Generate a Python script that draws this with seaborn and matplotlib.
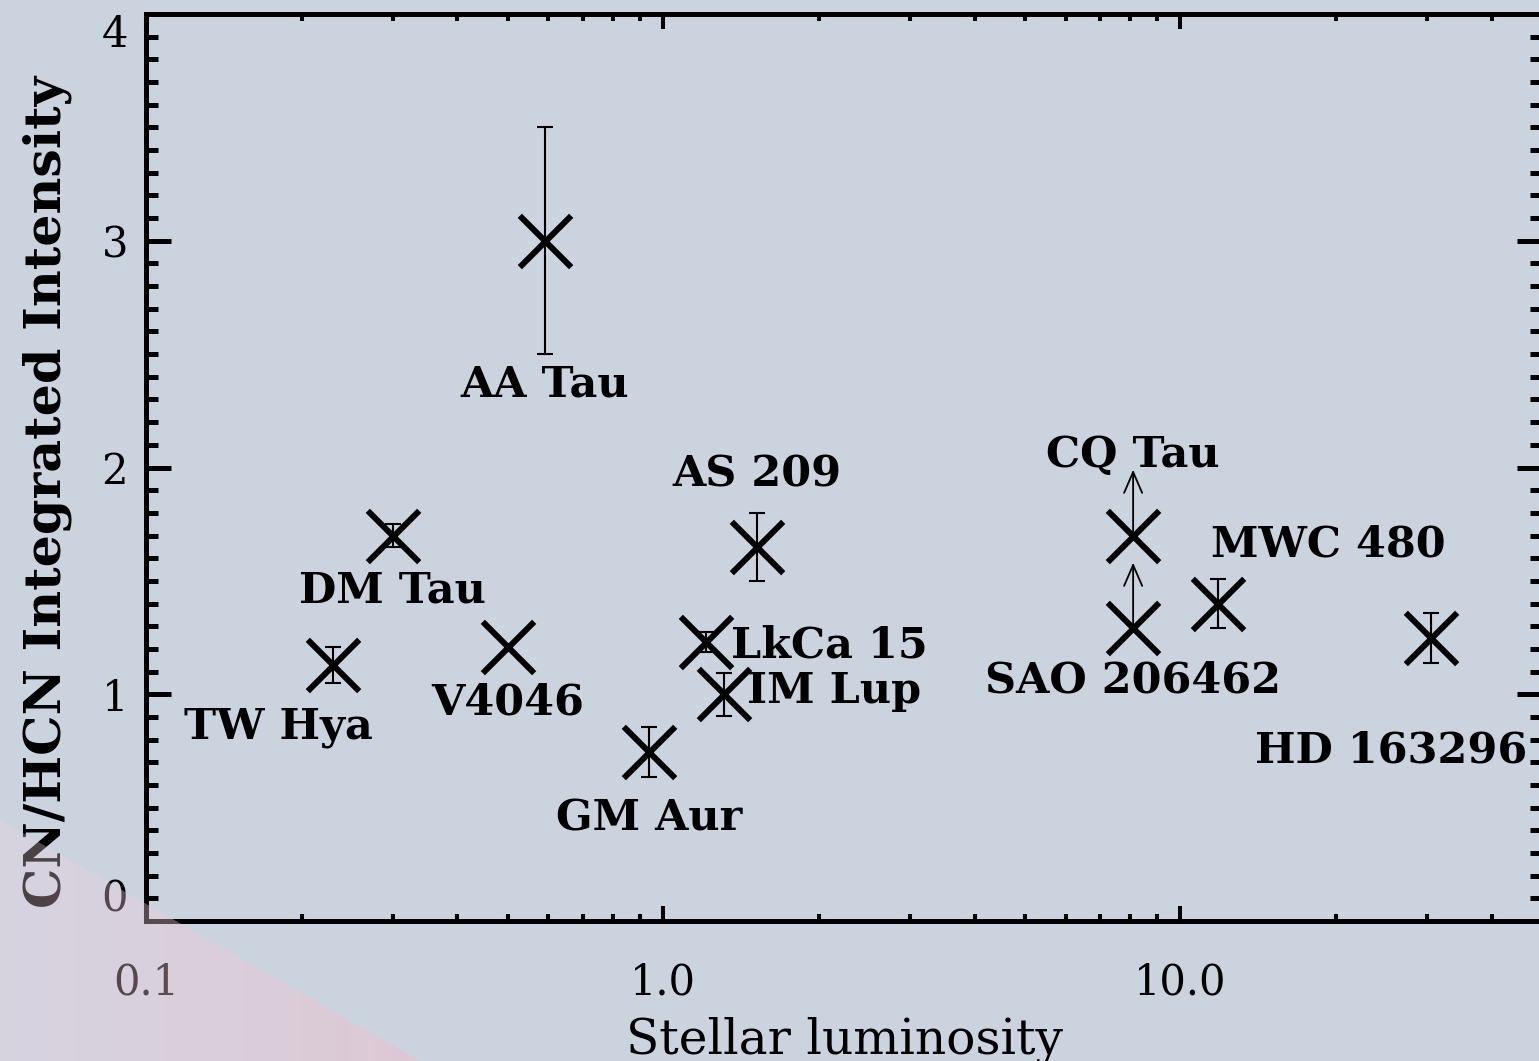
import numpy as np
import pandas as pd
import matplotlib
matplotlib.use("Agg")
import matplotlib.pyplot as plt
import seaborn as sns
from matplotlib.ticker import FixedLocator, NullFormatter
from matplotlib.patches import Polygon

# ---- data -------------------------------------------------------------
sources = ["TW Hya", "DM Tau", "V4046", "AA Tau", "GM Aur", "LkCa 15",
           "IM Lup", "AS 209", "SAO 206462", "CQ Tau", "MWC 480", "HD 163296"]
luminosity = [0.23, 0.30, 0.50, 0.59, 0.94, 1.21, 1.31, 1.52, 8.1, 8.1, 11.8, 30.5]
cn_hcn = [1.13, 1.70, 1.21, 3.00, 0.745, 1.23, 1.00, 1.65, 1.29, 1.70, 1.40, 1.25]
cn_hcn_err = [0.08, 0.05, np.nan, 0.50, 0.11, 0.045, 0.095, 0.15, np.nan, np.nan, 0.11, 0.11]
lower_limit = [False, False, False, False, False, False, False, False, True, True, False, False]

# label anchor (x, y) and horizontal alignment for each source name
label_x = [0.180, 0.30, 0.50, 0.59, 0.94, 1.35, 1.455, 1.52, 8.1, 8.1, 19.3, 25.6]
label_y = [0.856, 1.456, 0.962, 2.364, 0.454, 1.217, 1.015, 1.967, 1.059, 2.056, 1.659, 0.754]
label_ha = ["center", "center", "center", "center", "center", "left",
            "left", "center", "center", "center", "center", "center"]

x_ticks = [0.1, 1.0, 10.0]
x_tick_labels = ["0.1", "1.0", "10.0"]
y_ticks = [0, 1, 2, 3, 4]
y_tick_labels = ["0", "1", "2", "3", "4"]

df = pd.DataFrame({"source": sources, "lum": luminosity, "ratio": cn_hcn,
                   "err": cn_hcn_err, "limit": lower_limit})

# ---- style ------------------------------------------------------------
sns.set_style("ticks")
bg = "#cbd3df"
plt.rcParams["font.family"] = ["DejaVu Serif"]
plt.rcParams["text.color"] = "black"
plt.rcParams["axes.labelcolor"] = "black"
plt.rcParams["xtick.color"] = "black"
plt.rcParams["ytick.color"] = "black"

fig = plt.figure(figsize=(15.39, 10.61), dpi=100, facecolor=bg)
ax = fig.add_axes([146 / 1539, 140 / 1061, 1396 / 1539, 907 / 1061])
ax.set_facecolor(bg)

ax.set_xscale("log")
ax.set_xlim(0.1, 50)
ax.set_ylim(0, 4)

# error bars
has_err = df["err"].notna()
ax.errorbar(df.loc[has_err, "lum"], df.loc[has_err, "ratio"], yerr=df.loc[has_err, "err"],
            fmt="none", ecolor="black", elinewidth=1.5, capsize=6, capthick=1.5, zorder=3)

# crosses
sns.scatterplot(data=df, x="lum", y="ratio", marker="x", s=37 ** 2, color="black",
                linewidth=4.3, ax=ax, zorder=4, legend=False)

# lower-limit arrows
for _, r in df[df["limit"]].iterrows():
    ax.annotate("", xy=(r["lum"], r["ratio"] + 0.29), xytext=(r["lum"], r["ratio"]),
                arrowprops=dict(arrowstyle="->,head_length=1.5,head_width=0.65",
                                lw=1.3, color="black", shrinkA=0, shrinkB=0,
                                mutation_scale=10), zorder=3)

# source names
for name, lx, ly, ha in zip(sources, label_x, label_y, label_ha):
    ax.text(lx, ly, name, ha=ha, va="center", fontsize=31, fontweight="bold", zorder=5)

# axes frame, IDL-like inward ticks on all sides
for sp in ax.spines.values():
    sp.set_linewidth(3.6)
    sp.set_color("black")

ax.xaxis.set_major_locator(FixedLocator(x_ticks))
ax.set_xticklabels(x_tick_labels)
minor_x = [m * d for d in (0.1, 1, 10) for m in range(2, 10) if m * d < 50]
ax.xaxis.set_minor_locator(FixedLocator(minor_x))
ax.xaxis.set_minor_formatter(NullFormatter())

ax.yaxis.set_major_locator(FixedLocator(y_ticks))
ax.set_yticklabels(y_tick_labels)
ax.yaxis.set_minor_locator(FixedLocator(np.arange(0, 4.001, 0.1)))

ax.tick_params(axis="both", which="both", direction="in", top=True, right=True,
               color="black", labelcolor="black", labelsize=30)
ax.tick_params(axis="x", which="major", length=11, width=2.9, pad=29)
ax.tick_params(axis="x", which="minor", length=5, width=2.9)
ax.tick_params(axis="y", which="major", length=18, width=3.6, pad=13)
ax.tick_params(axis="y", which="minor", length=8.6, width=3.6)

ylabs = ax.get_yticklabels()
ylabs[0].set_va("bottom")
ylabs[-1].set_va("top")

ax.set_xlabel("Stellar luminosity", fontsize=35, va="top", color="black")
ax.xaxis.set_label_coords(0.5, -0.105)
ax.set_ylabel("CN/HCN Integrated Intensity", fontsize=36.5, fontweight="bold",
              va="center", color="black")
ax.yaxis.set_label_coords(-0.071, 0.473)

# soft pink wash in the lower-left corner
ov = fig.add_axes([0, 0, 1, 1], zorder=10)
ov.set_xlim(0, 1539)
ov.set_ylim(1061, 0)
ov.axis("off")
ov.patch.set_alpha(0)
nx = 256
t = np.linspace(0, 1, nx)
c0 = np.array([240, 212, 226]) / 255
c1 = np.array([241, 189, 200]) / 255
rgba = np.zeros((2, nx, 4))
rgba[..., :3] = (c0[None, :] * (1 - t)[:, None] + c1[None, :] * t[:, None])[None, :, :]
rgba[..., 3] = (0.3 + 0.2 * t)[None, :]
im = ov.imshow(rgba, extent=(0, 430, 1061, 800), aspect="auto", interpolation="bilinear")
tri = Polygon([(0, 820), (420, 1061), (0, 1061)], closed=True, transform=ov.transData)
im.set_clip_path(tri)

fig.savefig("out.png", dpi=100, facecolor=bg)
